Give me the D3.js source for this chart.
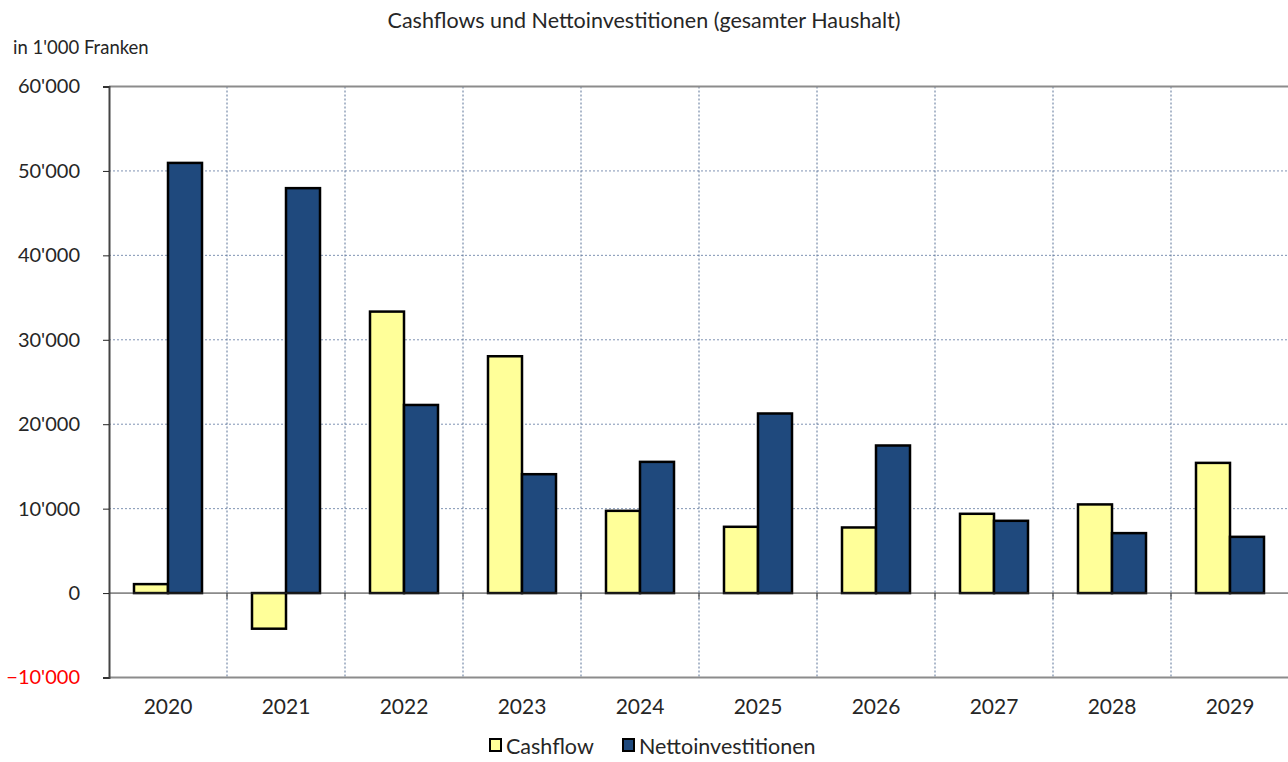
<!DOCTYPE html>
<html lang="de">
<head>
<meta charset="utf-8">
<script src="https://cdnjs.cloudflare.com/ajax/libs/d3/7.8.5/d3.min.js"></script>
<style>
  body { margin: 0; background: #fff; }
  text { font-family: Lato, "Open Sans", sans-serif; fill: #262626; }
</style>
</head>
<body>
<div id="chart"></div>
<script>
// data (in 1'000 Franken)
var years = ["2020", "2021", "2022", "2023", "2024", "2025", "2026", "2027", "2028", "2029"];
var cashflow = [1060, -4220, 33340, 28050, 9740, 7850, 7770, 9390, 10500, 15420];
var nettoinv = [50950, 47960, 22280, 14080, 15540, 21270, 17480, 8560, 7100, 6660];
var seriesNames = ["Cashflow", "Nettoinvestitionen"];
var seriesColors = ["#ffff99", "#1f497d"];
var yTicks = [-10000, 0, 10000, 20000, 30000, 40000, 50000, 60000];

var width = 1288, height = 762;
var margin = { top: 86.5, right: -1, bottom: 84.5, left: 109 };
var innerW = width - margin.left - margin.right;
var innerH = height - margin.top - margin.bottom;

var svg = d3.select("#chart").append("svg")
    .attr("width", width)
    .attr("height", height);

var g = svg.append("g")
    .attr("transform", "translate(" + margin.left + "," + margin.top + ")");

var x = d3.scaleBand().domain(years).range([0, innerW]).paddingInner(0).paddingOuter(0);
var xs = d3.scaleBand().domain(seriesNames).range([25, x.bandwidth() - 25]);
var y = d3.scaleLinear().domain([-10000, 60000]).range([innerH, 0]);

var fmt = function(v) { return d3.format(",")(v).replace(/,/g, "'"); };

// horizontal gridlines
g.selectAll(".hgrid")
    .data(yTicks.filter(function(t) { return t > 0 && t < 60000; }))
    .enter().append("line")
    .attr("x1", 0).attr("x2", innerW)
    .attr("y1", function(d) { return y(d); })
    .attr("y2", function(d) { return y(d); })
    .attr("stroke", "#7f93b3")
    .attr("stroke-width", 1)
    .attr("stroke-dasharray", "2,2");

// vertical gridlines between categories
g.selectAll(".vgrid")
    .data(years.slice(1))
    .enter().append("line")
    .attr("x1", function(d) { return x(d); })
    .attr("x2", function(d) { return x(d); })
    .attr("y1", 0).attr("y2", innerH)
    .attr("stroke", "#5a7397")
    .attr("stroke-width", 1)
    .attr("stroke-dasharray", "2,2");

// top and bottom borders
g.append("line").attr("x1", 0).attr("x2", innerW).attr("y1", y(60000)).attr("y2", y(60000))
    .attr("stroke", "#8c8c8c").attr("stroke-width", 2);
g.append("line").attr("x1", 0).attr("x2", innerW).attr("y1", y(-10000)).attr("y2", y(-10000))
    .attr("stroke", "#8c8c8c").attr("stroke-width", 2);

// bars
var rows = years.map(function(yr, i) { return { year: yr, values: [cashflow[i], nettoinv[i]] }; });

var groups = g.selectAll(".grp")
    .data(rows)
    .enter().append("g")
    .attr("transform", function(d) { return "translate(" + x(d.year) + ",0)"; });

groups.selectAll("rect")
    .data(function(d) { return d.values.map(function(v, k) { return { key: seriesNames[k], value: v, k: k }; }); })
    .enter().append("rect")
    .attr("x", function(d) { return xs(d.key); })
    .attr("width", xs.bandwidth())
    .attr("y", function(d) { return y(Math.max(0, d.value)); })
    .attr("height", function(d) { return Math.abs(y(d.value) - y(0)); })
    .attr("fill", function(d) { return seriesColors[d.k]; })
    .attr("stroke", "#000")
    .attr("stroke-width", 2.5);

// zero line
g.append("line").attr("x1", 0).attr("x2", innerW).attr("y1", y(0)).attr("y2", y(0))
    .attr("stroke", "#333").attr("stroke-width", 1);

// small ticks on zero line between categories
g.selectAll(".xtick")
    .data(years.slice(1))
    .enter().append("line")
    .attr("x1", function(d) { return x(d); })
    .attr("x2", function(d) { return x(d); })
    .attr("y1", y(0)).attr("y2", y(0) + 6)
    .attr("stroke", "#333").attr("stroke-width", 1);

// y axis
var yAxis = g.append("g")
    .call(d3.axisLeft(y).tickValues(yTicks).tickSize(6).tickPadding(23).tickFormat(fmt));
yAxis.select(".domain").attr("stroke", "#444").attr("stroke-width", 2);
yAxis.selectAll(".tick line").attr("stroke", "#222");
yAxis.selectAll(".tick text")
    .style("font-family", "Lato, 'Open Sans', sans-serif")
    .style("font-size", "20px")
    .style("fill", function(d) { return d < 0 ? "#ff0000" : "#262626"; });

// x labels
g.selectAll(".xlabel")
    .data(years)
    .enter().append("text")
    .attr("x", function(d) { return x(d) + x.bandwidth() / 2; })
    .attr("y", innerH + 36)
    .attr("text-anchor", "middle")
    .style("font-size", "21px")
    .text(function(d) { return d; });

// title and unit
svg.append("text")
    .attr("x", 644).attr("y", 28)
    .attr("text-anchor", "middle")
    .style("font-size", "21.5px")
    .text("Cashflows und Nettoinvestitionen (gesamter Haushalt)");

svg.append("text")
    .attr("x", 13).attr("y", 54)
    .style("font-size", "18.5px")
    .text("in 1'000 Franken");

// legend
var legend = svg.append("g").attr("transform", "translate(489,746)");
var legendX = [0, 133];
seriesNames.forEach(function(name, k) {
    var lg = legend.append("g").attr("transform", "translate(" + legendX[k] + ",0)");
    lg.append("rect")
        .attr("x", 1).attr("y", -7)
        .attr("width", 11).attr("height", 12)
        .attr("fill", seriesColors[k])
        .attr("stroke", "#000").attr("stroke-width", 2);
    lg.append("text")
        .attr("x", 17).attr("y", 8)
        .style("font-size", "21.5px")
        .text(name);
});
</script>
</body>
</html>
